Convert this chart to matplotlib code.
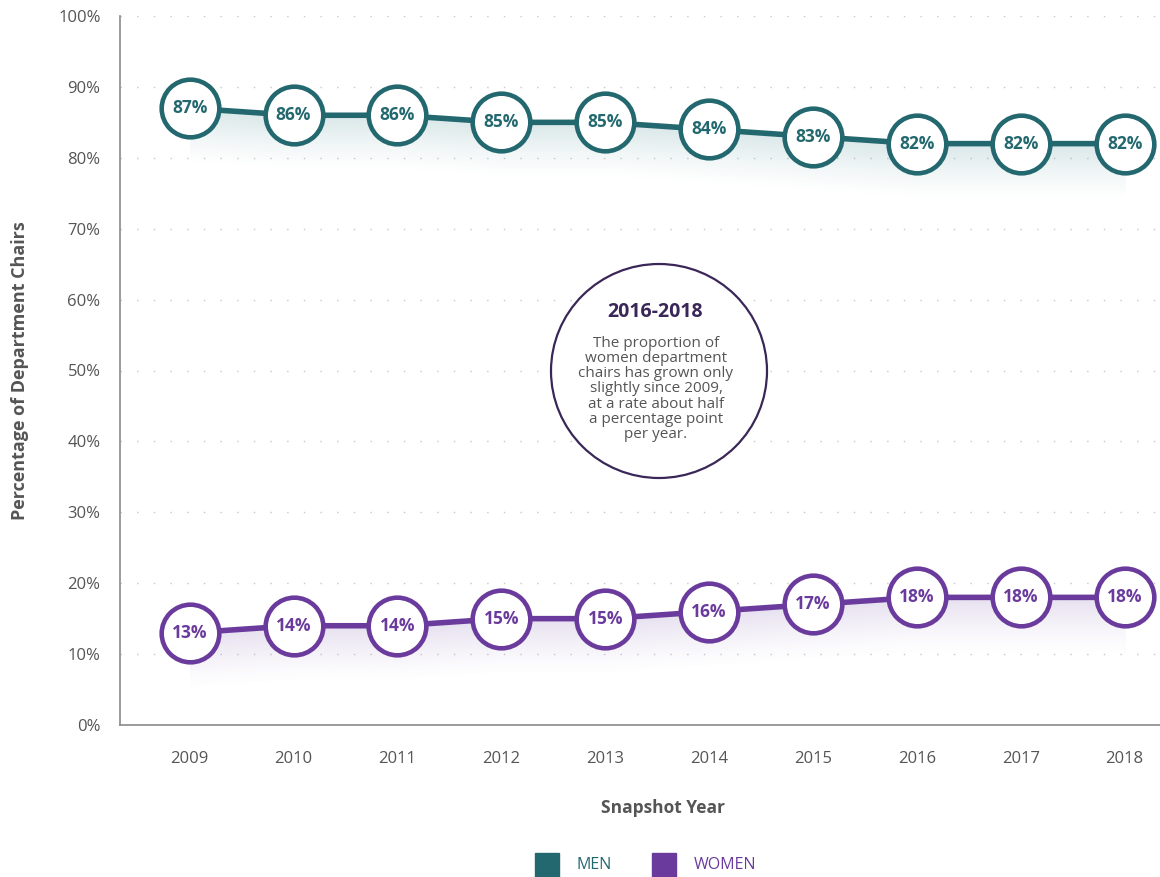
import numpy as np
import matplotlib
matplotlib.use("Agg")
import matplotlib.pyplot as plt
from matplotlib.patches import Ellipse, Rectangle
from matplotlib.colors import to_rgb

plt.rcParams['font.family'] = ['Open Sans', 'DejaVu Sans']

years = [2009, 2010, 2011, 2012, 2013, 2014, 2015, 2016, 2017, 2018]
men = [87, 86, 86, 85, 85, 84, 83, 82, 82, 82]
women = [13, 14, 14, 15, 15, 16, 17, 18, 18, 18]
yticks = [0, 10, 20, 30, 40, 50, 60, 70, 80, 90, 100]

TEAL = '#23686f'
PURPLE = '#6a3b9c'
GREY = '#555555'

fig = plt.figure(figsize=(11.6, 8.77), dpi=100)
ax = fig.add_axes([120/1160, 1-725/877, 1040/1160, 709/877])
ax.set_xlim(2008.33, 2018.34)
ax.set_ylim(0, 100)

# grid
for v in yticks[1:]:
    ax.axhline(v, color='#c8c8c8', lw=1.0, linestyle=(0, (1, 11)), zorder=0)

# gradient shading below lines
def shade(vals, color, depth=8.0, amax=0.22):
    xs = np.linspace(years[0], years[-1], 600)
    ylo = min(vals) - depth
    yhi = max(vals)
    yg = np.linspace(ylo, yhi, 300)
    X, Y = np.meshgrid(xs, yg)
    YL = np.interp(X, years, vals)
    dist = YL - Y
    a = np.where(dist >= 0, np.clip(1 - dist / depth, 0, 1), 0) ** 1.3 * amax
    rgb = to_rgb(color)
    img = np.zeros((len(yg), len(xs), 4))
    img[..., 0], img[..., 1], img[..., 2] = rgb
    img[..., 3] = a
    ax.imshow(img, extent=[xs[0], xs[-1], ylo, yhi], origin='lower',
              aspect='auto', zorder=1, interpolation='bilinear')

shade(men, '#4f8f96')
shade(women, '#8e72b8')
ax.set_xlim(2008.33, 2018.34)
ax.set_ylim(0, 100)

for vals, col in [(men, TEAL), (women, PURPLE)]:
    ax.plot(years, vals, color=col, lw=4, zorder=2, solid_capstyle='round')
    ax.plot(years, vals, 'o', ms=41.5, mfc='white', mec=col, mew=3.3, zorder=3)
    for x, v in zip(years, vals):
        ax.text(x, v, f'{v}%', ha='center', va='center', color=col,
                fontsize=12.5, fontweight='bold', zorder=4)

ax.set_yticks(yticks)
ax.set_yticklabels([f'{v}%' for v in yticks])
ax.set_xticks(years)
ax.set_xticklabels([str(y) for y in years])
ax.tick_params(length=0, labelsize=12, colors=GREY, pad=14)
ax.tick_params(axis='x', pad=19)
for s in ['top', 'right']:
    ax.spines[s].set_visible(False)
for s in ['left', 'bottom']:
    ax.spines[s].set_color('#8a8a8a')
    ax.spines[s].set_linewidth(1.2)

fig.text(20/1160, 1-371/877, 'Percentage of Department Chairs', rotation=90,
         ha='center', va='center', fontsize=13, fontweight='bold', color=GREY)
fig.text(663/1160, 1-808/877, 'Snapshot Year', ha='center', va='center',
         fontsize=12.5, fontweight='bold', color=GREY)

# legend
fig.patches.append(Rectangle((535/1160, 1-877/877), 24/1160, 24/877,
                             transform=fig.transFigure, color=TEAL))
fig.text(576/1160, 1-865/877, 'MEN', ha='left', va='center', fontsize=11.5, color=TEAL)
fig.patches.append(Rectangle((652/1160, 1-877/877), 24/1160, 24/877,
                             transform=fig.transFigure, color=PURPLE))
fig.text(694/1160, 1-865/877, 'WOMEN', ha='left', va='center', fontsize=11.5, color=PURPLE)

# annotation circle
fig.patches.append(Ellipse((659/1160, 1-371/877), 216/1160, 214/877,
                           transform=fig.transFigure, facecolor='white',
                           edgecolor='#3a2758', lw=1.6, zorder=5))
fig.text(655/1160, 1-312/877, '2016-2018', ha='center', va='center',
         fontsize=14, fontweight='bold', color='#3a2758', zorder=6)
fig.text(656/1160, 1-389/877,
         'The proportion of\nwomen department\nchairs has grown only\nslightly since 2009,\nat a rate about half\na percentage point\nper year.',
         ha='center', va='center', fontsize=11, color=GREY, linespacing=1.02, zorder=6)

fig.savefig('out.png', dpi=100)
